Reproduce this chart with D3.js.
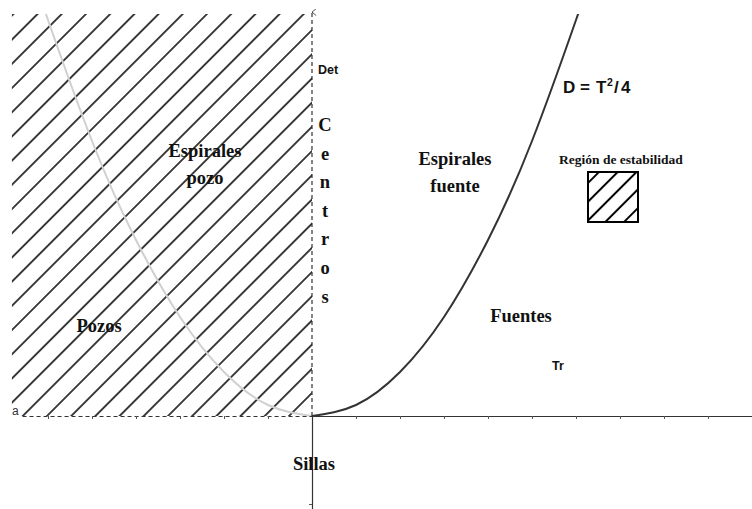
<!DOCTYPE html>
<html>
<head>
<meta charset="utf-8">
<script src="https://cdn.jsdelivr.net/npm/d3@7"></script>
<style>
  body { margin: 0; background: #fff; }
  svg { display: block; }
  .serif { font-family: "Liberation Serif", "DejaVu Serif", serif; font-weight: bold; fill: #111; }
  .sans { font-family: "Liberation Sans", Arial, sans-serif; font-weight: bold; fill: #111; }
</style>
</head>
<body>
<script>
const w = 752
const h = 509

// curve D = T^2/4
const curveT = [0, 1, 2, 3, 4, 5, 6, 6.1]
const curveD = [0, 0.25, 1, 2.25, 4, 6.25, 9, 9.3]
const leftT = [0, -1, -2, -3, -4, -5, -6, -6.1]

// stable region (hatched): T < 0, D > 0
const stableT = [-6.82, 0]
const stableD = [0, 9.136]

const xTicksRight = [1, 2, 3, 4, 5, 6, 7, 8, 9, 10]
const xTicksLeft = [-6, -5, -4, -3, -2, -1]
const yTicksLow = [-1, -2]

const regionNames = ['Espirales\npozo', 'Pozos', 'Espirales\nfuente', 'Fuentes', 'Sillas']
const centros = 'Centros'.split('')

const xScale = d3.scaleLinear().domain([-312 / 44, 440 / 44]).range([0, w])
const yScale = d3.scaleLinear().domain([-93 / 44, 416 / 44]).range([h, 0])

const svg = d3.select('body').append('svg').attr('width', w).attr('height', h)
const defs = svg.append('defs')

// hatch patterns
function hatch(id, spacing, phase, sw) {
	const tile = spacing / Math.SQRT2
	const p = defs.append('pattern')
		.attr('id', id)
		.attr('patternUnits', 'userSpaceOnUse')
		.attr('width', tile).attr('height', 10)
		.attr('patternTransform', `translate(${phase - spacing / 2},0) rotate(45)`)
	p.append('line')
		.attr('x1', tile / 2).attr('x2', tile / 2)
		.attr('y1', -1).attr('y2', 11)
		.attr('stroke', '#000').attr('stroke-width', sw)
}
const unit = xScale(1) - xScale(0)
hatch('hatchMain', 0.55 * unit, xScale(-0.523) + yScale(0), 1.5)
hatch('hatchLegend', 18.75, 771, 2)

defs.append('marker')
	.attr('id', 'arrow').attr('viewBox', '0 0 10 10')
	.attr('refX', 5).attr('refY', 1).attr('markerWidth', 7).attr('markerHeight', 7)
	.attr('markerUnits', 'userSpaceOnUse')
	.attr('orient', 'auto-start-reverse')
	.append('path').attr('d', 'M0,7 L5,1 L10,7')
	.attr('fill', 'none').attr('stroke', '#333').attr('stroke-width', 1.2)

defs.append('clipPath').attr('id', 'clipTop')
	.append('rect').attr('x', 0).attr('width', w)
	.attr('y', yScale(stableD[1])).attr('height', h)

svg.append('rect')
	.attr('x', xScale(stableT[0])).attr('y', yScale(stableD[1]))
	.attr('width', xScale(stableT[1]) - xScale(stableT[0]))
	.attr('height', yScale(stableD[0]) - yScale(stableD[1]))
	.attr('fill', 'url(#hatchMain)')

const line = d3.line().curve(d3.curveNatural)

svg.append('path')
	.attr('d', line(leftT.map((t, i) => [xScale(t), yScale(curveD[i])])))
	.attr('clip-path', 'url(#clipTop)')
	.attr('fill', 'none').attr('stroke', '#d0d0d0').attr('stroke-width', 2)

svg.append('path')
	.attr('d', line(curveT.map((t, i) => [xScale(t), yScale(curveD[i])])))
	.attr('clip-path', 'url(#clipTop)')
	.attr('fill', 'none').attr('stroke', '#333').attr('stroke-width', 2)

// axes
const xRight = xScale.copy().domain([0, 10]).range([xScale(0), xScale(10)])
const xLeft = xScale.copy().domain([-6.59, 0]).range([xScale(-6.59), xScale(0)])
const yLow = yScale.copy().domain([-2.114, 0]).range([yScale(-2.114), yScale(0)])

const gxr = svg.append('g').attr('transform', `translate(0,${yScale(0)})`)
	.call(d3.axisBottom(xRight).tickValues(xTicksRight).tickSize(3).tickSizeOuter(0).tickFormat(''))
const gxl = svg.append('g').attr('transform', `translate(0,${yScale(0)})`)
	.call(d3.axisBottom(xLeft).tickValues(xTicksLeft).tickSize(3).tickSizeOuter(0).tickFormat(''))
gxl.select('.domain').attr('stroke-dasharray', '4,3')
const gyl = svg.append('g').attr('transform', `translate(${xScale(0)},0)`)
	.call(d3.axisLeft(yLow).tickValues(yTicksLow).tickSize(3).tickSizeOuter(0).tickFormat(''))
svg.selectAll('.domain').attr('stroke', '#333').attr('stroke-width', 1.2)
svg.selectAll('.tick line').attr('stroke', '#555')

svg.append('line')
	.attr('x1', xScale(0)).attr('x2', xScale(0))
	.attr('y1', yScale(0)).attr('y2', yScale(9.18))
	.attr('stroke', '#333').attr('stroke-width', 1.2)
	.attr('stroke-dasharray', '4,3')
	.attr('marker-end', 'url(#arrow)')

// labels
svg.append('text').attr('class', 'sans').attr('font-size', 12.5)
	.attr('x', xScale(0) + 6).attr('y', 74).text('Det')
svg.append('text').attr('class', 'sans').attr('font-size', 12.5)
	.attr('x', 552).attr('y', 370).text('Tr')
svg.append('text').attr('font-family', 'Liberation Sans, Arial, sans-serif')
	.attr('font-size', 12).attr('fill', '#333')
	.attr('x', 12).attr('y', 415).text('a')

const eq = svg.append('text').attr('class', 'sans').attr('font-size', 17)
	.attr('y', 93)
eq.append('tspan').attr('x', 563).text('D')
eq.append('tspan').attr('x', 580).text('=')
eq.append('tspan').attr('x', 596).text('T')
eq.append('tspan').attr('x', 607).attr('font-size', 10.5).attr('dy', -7).text('2')
eq.append('tspan').attr('x', 614).attr('dy', 7).text('/')
eq.append('tspan').attr('x', 621).text('4')

const namePos = [[205, 157], [99, 332], [455, 165], [521, 322], [314, 470]]
regionNames.forEach((name, i) => {
	const t = svg.append('text').attr('class', 'serif').attr('font-size', 18.5)
		.attr('text-anchor', 'middle')
		.attr('x', namePos[i][0]).attr('y', namePos[i][1])
	name.split('\n').forEach((s, j) => {
		t.append('tspan').attr('x', namePos[i][0]).attr('dy', j ? 27 : 0).text(s)
	})
})

centros.forEach((c, i) => {
	svg.append('text').attr('class', 'serif').attr('font-size', 18.5)
		.attr('text-anchor', 'middle')
		.attr('x', 325).attr('y', 131 + i * 28.6).text(c)
})

// legend
svg.append('text').attr('class', 'serif').attr('font-size', 13.5)
	.attr('text-anchor', 'middle').attr('x', 621).attr('y', 164)
	.text('Región de estabilidad')
svg.append('rect')
	.attr('x', 588).attr('y', 172).attr('width', 50).attr('height', 50)
	.attr('fill', 'url(#hatchLegend)')
	.attr('stroke', '#000').attr('stroke-width', 2)
</script>
</body>
</html>
